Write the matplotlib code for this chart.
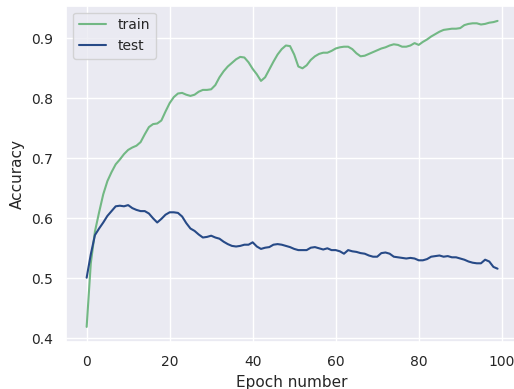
import numpy as np
import matplotlib
matplotlib.use("Agg")
import matplotlib.pyplot as plt
import seaborn as sns

# accuracy per epoch
train_acc = [
    0.419, 0.525, 0.578, 0.610, 0.640, 0.662, 0.677, 0.690, 0.698, 0.707,
    0.714, 0.718, 0.721, 0.727, 0.740, 0.752, 0.757, 0.758, 0.763, 0.778,
    0.792, 0.802, 0.808, 0.809, 0.806, 0.804, 0.806, 0.811, 0.814, 0.814,
    0.815, 0.822, 0.835, 0.845, 0.853, 0.859, 0.865, 0.869, 0.868, 0.860,
    0.849, 0.840, 0.829, 0.835, 0.848, 0.861, 0.873, 0.882, 0.888, 0.887,
    0.873, 0.853, 0.850, 0.855, 0.864, 0.870, 0.874, 0.876, 0.876, 0.879,
    0.883, 0.885, 0.886, 0.886, 0.882, 0.875, 0.870, 0.871, 0.874, 0.877,
    0.880, 0.883, 0.885, 0.888, 0.890, 0.889, 0.886, 0.886, 0.888, 0.892,
    0.889, 0.894, 0.898, 0.903, 0.907, 0.911, 0.914, 0.915, 0.916, 0.916,
    0.917, 0.922, 0.924, 0.925, 0.925, 0.923, 0.924, 0.926, 0.927, 0.929,
]
test_acc = [
    0.501, 0.540, 0.572, 0.583, 0.593, 0.604, 0.612, 0.620, 0.621, 0.620,
    0.622, 0.617, 0.614, 0.612, 0.612, 0.608, 0.600, 0.593, 0.599, 0.606,
    0.610, 0.610, 0.609, 0.603, 0.592, 0.583, 0.579, 0.573, 0.568, 0.569,
    0.571, 0.568, 0.566, 0.561, 0.557, 0.554, 0.553, 0.554, 0.556, 0.556,
    0.560, 0.553, 0.549, 0.551, 0.552, 0.556, 0.557, 0.556, 0.554, 0.552,
    0.549, 0.547, 0.547, 0.547, 0.551, 0.552, 0.550, 0.548, 0.550, 0.547,
    0.547, 0.545, 0.541, 0.547, 0.545, 0.544, 0.542, 0.541, 0.538, 0.536,
    0.536, 0.542, 0.543, 0.541, 0.536, 0.535, 0.534, 0.533, 0.534, 0.533,
    0.530, 0.530, 0.532, 0.536, 0.537, 0.538, 0.536, 0.537, 0.535, 0.535,
    0.533, 0.531, 0.528, 0.526, 0.525, 0.525, 0.531, 0.528, 0.519, 0.516,
]
epochs = np.arange(len(train_acc))

sns.set_theme(style="darkgrid")
plt.rcParams['font.family'] = ['DejaVu Sans']
plt.rcParams['xtick.labelsize'] = 10
plt.rcParams['ytick.labelsize'] = 10
plt.rcParams['axes.labelsize'] = 11
plt.rcParams['legend.fontsize'] = 10

fig = plt.figure(figsize=(5.14, 3.89), dpi=100)
ax = fig.add_axes([0.1286, 0.1203, 0.8794, 0.8653])

ax.plot(epochs, train_acc, color='#72b884', lw=1.5, label='train')
ax.plot(epochs, test_acc, color='#274a87', lw=1.5, label='test')

ax.set_xlabel('Epoch number')
ax.set_ylabel('Accuracy')
ax.set_xticks([0, 20, 40, 60, 80, 100])
ax.set_yticks([0.4, 0.5, 0.6, 0.7, 0.8, 0.9])
ax.legend(loc='upper left')

fig.savefig('out.png', dpi=100)
